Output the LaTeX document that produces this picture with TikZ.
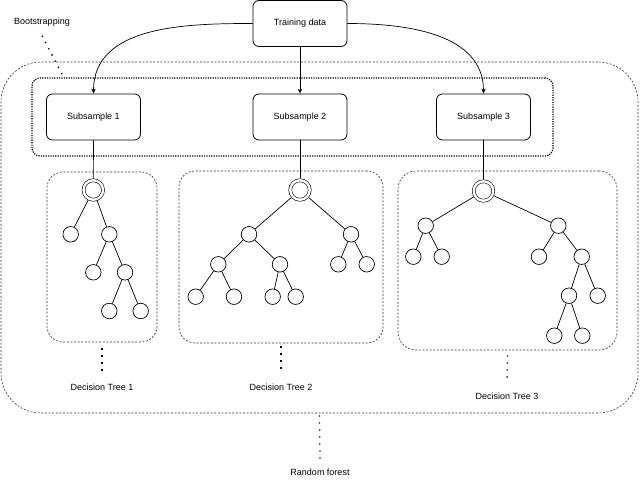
\documentclass[tikz,border=0pt]{standalone}
\usepackage{fontspec}
\setmainfont{Liberation Sans}
\usetikzlibrary{arrows.meta}
\begin{document}
\begin{tikzpicture}[x=1pt,y=-1pt, font=\fontsize{9}{11}\selectfont,
  box/.style={draw, rounded corners=6pt, minimum width=94pt, minimum height=46pt, line width=0.8pt, inner sep=0pt},
  leaf/.style={draw, circle, minimum size=15.5pt, inner sep=0pt, line width=0.7pt},
  rootn/.style={draw, circle, minimum size=19.5pt, inner sep=0pt, line width=0.6pt, double, double distance=2.4pt, outer sep=1.8pt},
  edge/.style={line width=0.7pt},
  arr/.style={line width=0.7pt, -{Stealth[length=5pt,width=4.5pt]}},
  region/.style={draw=black!80, line width=0.6pt, dash pattern=on 2pt off 1.6pt, inner sep=0pt, minimum width=#1},
  boot/.style={draw, line width=1.2pt, dash pattern=on 1.2pt off 1.2pt, rounded corners=8pt, inner sep=0pt},
  pointer/.style={line width=1.3pt, dash pattern=on 1.4pt off 5.6pt},
]
\useasboundingbox (0,0) rectangle (640,484);

% containers
\node[region=637pt, rounded corners=40pt, minimum height=351pt] (rf) at (319.5,237.5) {};
\node[boot, minimum width=521pt, minimum height=78pt] (bs) at (292.5,117) {};
\node[region=110pt, rounded corners=16pt, minimum height=170pt] (t1) at (102,257) {};
\node[region=204pt, rounded corners=16pt, minimum height=172pt] (t2) at (281,257) {};
\node[region=219pt, rounded corners=18pt, minimum height=179pt] (t3) at (507.5,260.5) {};

% boxes
\node[box] (td) at (300,23.5) {Training data};
\node[box] (s1) at (93.5,117) {Subsample 1};
\node[box] (s2) at (300,117) {Subsample 2};
\node[box] (s3) at (483.5,117) {Subsample 3};

\draw[arr] (td.west) to[out=180,in=90] (s1.north);
\draw[arr] (td.south) -- (s2.north);
\draw[arr] (td.east) to[out=0,in=90] (s3.north);

% labels
\node (lbs) at (42,22) {Bootstrapping};
\coordinate (bsp) at (63,76);
\draw[pointer] ([yshift=-6pt]lbs.south) -- (bsp);
\node (l1) at (102,387) {Decision Tree 1};
\node (l2) at (281,387) {Decision Tree 2};
\node (l3) at (507,396) {Decision Tree 3};
\node (lrf) at (320,472) {Random forest};
\draw[pointer] ([yshift=-6pt]t1.south) -- ([yshift=9.5pt]l1.north);
\draw[pointer] ([yshift=-3pt]t2.south) -- ([yshift=9.5pt]l2.north);
\draw[pointer] ([yshift=-5pt]t3.south) -- ([yshift=6pt]l3.north);
\draw[pointer] ([yshift=-2pt]rf.south) -- ([yshift=6pt]lrf.north);

% tree 1
\node[rootn] (r1) at (93.3,190) {};
\node[leaf] (a1) at (70.7,234.3) {};
\node[leaf] (b1) at (109.3,234.3) {};
\node[leaf] (c1) at (93.3,272.3) {};
\node[leaf] (d1) at (125,272.3) {};
\node[leaf] (e1) at (109.3,311) {};
\node[leaf] (f1) at (140.7,311) {};
\draw[edge] (s1.south) -- (r1.north);
\draw[edge] (r1) -- (a1);
\draw[edge] (r1) -- (b1);
\draw[edge] (b1) -- (c1);
\draw[edge] (b1) -- (d1);
\draw[edge] (d1) -- (e1);
\draw[edge] (d1) -- (f1);

% tree 2
\node[rootn] (r2) at (300,190) {};
\node[leaf] (l2a) at (249,234.3) {};
\node[leaf] (r2a) at (351,234.3) {};
\node[leaf] (ll2) at (218.3,264.3) {};
\node[leaf] (lr2) at (280,264.3) {};
\node[leaf] (rl2) at (338.3,264.3) {};
\node[leaf] (rr2) at (366.7,264.3) {};
\node[leaf] (lll2) at (195.7,296.7) {};
\node[leaf] (llr2) at (234,296.7) {};
\node[leaf] (lrl2) at (272.7,296.7) {};
\node[leaf] (lrr2) at (295.7,296.7) {};
\draw[edge] (s2.south) -- (r2.north);
\draw[edge] (r2) -- (l2a);
\draw[edge] (r2) -- (r2a);
\draw[edge] (l2a) -- (ll2);
\draw[edge] (l2a) -- (lr2);
\draw[edge] (r2a) -- (rl2);
\draw[edge] (r2a) -- (rr2);
\draw[edge] (ll2) -- (lll2);
\draw[edge] (ll2) -- (llr2);
\draw[edge] (lr2) -- (lrl2);
\draw[edge] (lr2) -- (lrr2);

% tree 3
\node[rootn] (r3) at (483.5,191) {};
\node[leaf] (l3a) at (425.7,225.7) {};
\node[leaf] (r3a) at (558.3,225.7) {};
\node[leaf] (ll3) at (413.3,256.7) {};
\node[leaf] (lr3) at (441.7,256.7) {};
\node[leaf] (rl3) at (539,256.7) {};
\node[leaf] (rr3) at (581.7,256.7) {};
\node[leaf] (rrl3) at (569,295.7) {};
\node[leaf] (rrr3) at (597.7,295.7) {};
\node[leaf] (rrll3) at (554.3,335.7) {};
\node[leaf] (rrlr3) at (582.3,335.7) {};
\draw[edge] (s3.south) -- (r3.north);
\draw[edge] (r3) -- (l3a);
\draw[edge] (r3) -- (r3a);
\draw[edge] (l3a) -- (ll3);
\draw[edge] (l3a) -- (lr3);
\draw[edge] (r3a) -- (rl3);
\draw[edge] (r3a) -- (rr3);
\draw[edge] (rr3) -- (rrl3);
\draw[edge] (rr3) -- (rrr3);
\draw[edge] (rrl3) -- (rrll3);
\draw[edge] (rrl3) -- (rrlr3);
\end{tikzpicture}
\end{document}
